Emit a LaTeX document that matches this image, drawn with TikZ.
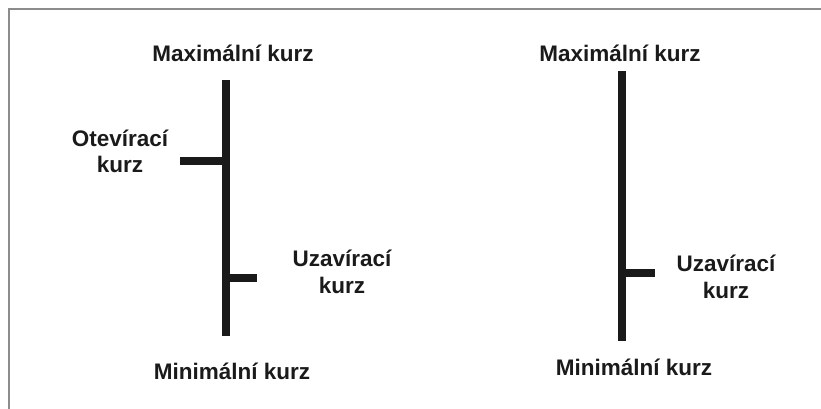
\documentclass[tikz,border=0pt]{standalone}
\usepackage{fontspec}
\setmainfont{Liberation Sans}
\definecolor{barcol}{HTML}{1A1A1A}
\definecolor{framecol}{HTML}{8C8C8C}
\begin{document}
\begin{tikzpicture}[x=1pt,y=-1pt,
  bar/.style={line width=8.5pt,draw=barcol,line cap=butt},
  lbl/.style={font=\fontsize{22.5}{26.5}\selectfont\bfseries,text=barcol,align=center,inner sep=0pt,anchor=base}]
\useasboundingbox (0,0) rectangle (821,409);
% frame, running off the right and bottom edges
\draw[framecol,line width=2pt] (8.5,430) -- (8.5,9.5) -- (840,9.5);

% left bar: open and close ticks
\coordinate (lt) at (226,80);
\coordinate (lb) at (226,336);
\coordinate (lo) at (226,161);
\coordinate (loe) at (180,161);
\coordinate (lc) at (226,278);
\coordinate (lce) at (257,278);
\draw[bar] (lt) -- (lb);
\draw[bar] (loe) -- (lo);
\draw[bar] (lc) -- (lce);

% right bar: close tick only
\coordinate (rt) at (622,71);
\coordinate (rb) at (622,341);
\coordinate (rc) at (622,273);
\coordinate (rce) at (655,273);
\draw[bar] (rt) -- (rb);
\draw[bar] (rc) -- (rce);

% labels (two-line labels are placed by the baseline of their last line)
\node[lbl] (lmax) at (233,62) {Maximální kurz};
\node[lbl] (lopen) at (120,172.5) {Otevírací\\kurz};
\node[lbl] (lclose) at (342,293) {Uzavírací\\kurz};
\node[lbl] (lmin) at (232,379) {Minimální kurz};

\node[lbl] (rmax) at (620,62) {Maximální kurz};
\node[lbl] (rclose) at (726,298) {Uzavírací\\kurz};
\node[lbl] (rmin) at (634,375) {Minimální kurz};
\end{tikzpicture}
\end{document}
